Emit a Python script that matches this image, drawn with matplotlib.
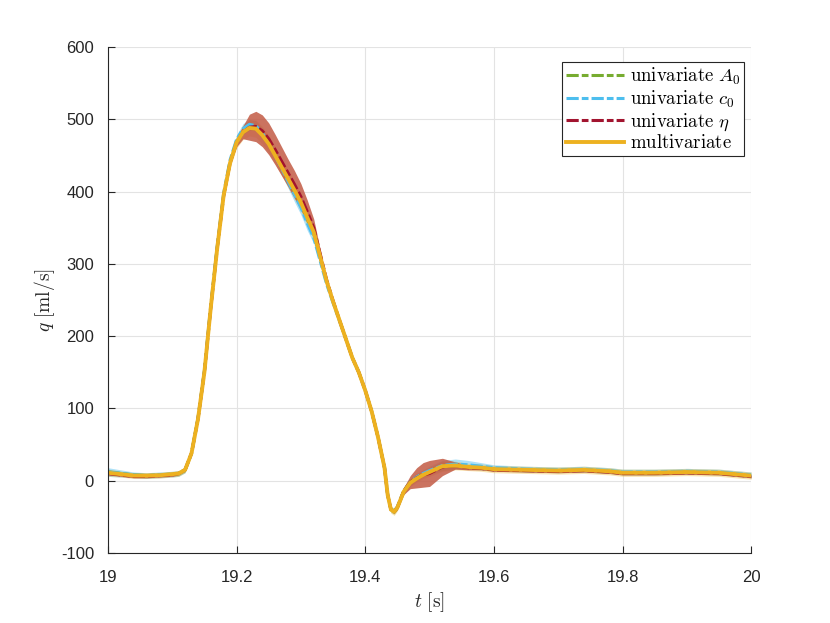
import matplotlib
matplotlib.use("Agg")
import matplotlib.pyplot as plt
import numpy as np

# time samples [s]
t = [19.00, 19.02, 19.04, 19.06, 19.08, 19.10, 19.11, 19.12, 19.13, 19.14,
     19.15, 19.16, 19.17, 19.18, 19.19, 19.20, 19.21, 19.22, 19.23, 19.24,
     19.25, 19.26, 19.27, 19.28, 19.29, 19.30, 19.31, 19.32, 19.33, 19.34,
     19.35, 19.36, 19.37, 19.38, 19.39, 19.40, 19.41, 19.42, 19.43, 19.435,
     19.44, 19.445, 19.45, 19.46, 19.47, 19.48, 19.49, 19.50, 19.52, 19.54,
     19.56, 19.58, 19.60, 19.65, 19.70, 19.74, 19.78, 19.80, 19.85, 19.90,
     19.95, 20.00]

# mean flow [ml/s]
q_multi = [11, 9, 7, 7, 7.5, 9, 10, 15, 38, 85,
           150, 240, 322, 395, 440, 468, 482, 488, 487, 478,
           466, 450, 434, 418, 402, 385, 364, 344, 310, 276,
           248, 222, 196, 170, 150, 125, 96, 60, 18, -20,
           -40, -43, -37, -15, -3, 3, 8, 12, 20, 21,
           19, 18, 16, 15, 14, 15, 13, 11, 11, 12,
           11, 7]
q_a0 = [12, 10, 8, 7, 8, 9, 10, 15, 38, 86,
        151, 241, 323, 396, 441, 470, 484, 490, 489, 480,
        467, 451, 434, 417, 400, 383, 362, 342, 309, 276,
        248, 222, 196, 170, 150, 125, 96, 60, 18, -20,
        -40, -43, -37, -14, -2, 4, 9, 13, 20, 21,
        19, 18, 16, 15, 14, 15, 13, 11, 11, 12,
        11, 7]
q_c0 = [12, 10, 8, 7, 8, 9, 10, 15, 38, 86,
        152, 243, 325, 398, 444, 472, 487, 493, 491, 481,
        467, 450, 432, 414, 396, 378, 356, 336, 304, 272,
        246, 221, 196, 170, 150, 125, 96, 60, 18, -20,
        -40, -42, -36, -14, -2, 5, 10, 14, 21, 23,
        22, 20, 18, 16, 15, 16, 14, 12, 12, 13,
        12, 8]
q_eta = [10, 8, 6, 6, 7, 8, 10, 15, 38, 85,
         150, 240, 322, 394, 440, 468, 482, 489, 490, 484,
         473, 458, 442, 426, 410, 393, 372, 350, 314, 278,
         249, 222, 196, 170, 150, 125, 96, 60, 18, -20,
         -40, -43, -37, -14, -2, 4, 8, 10, 19, 21,
         18, 17, 15, 14, 13, 14, 12, 10, 10, 11,
         10, 6]

# half width of the uncertainty bands [ml/s]
w_multi = [5, 4, 4, 4, 4, 4, 4, 4, 4, 4,
           5, 5, 5, 6, 7, 8, 10, 11, 12, 12,
           12, 12, 12, 12, 12, 12, 12, 10, 8, 6,
           5, 5, 5, 5, 5, 5, 5, 5, 5, 5,
           5, 5, 5, 5, 5, 5, 5, 6, 7, 6,
           5, 5, 5, 5, 5, 5, 5, 5, 5, 5,
           5, 5]
w_a0 = [4, 3, 3, 3, 3, 3, 3, 3, 3, 3,
        3, 3, 3, 4, 4, 5, 5, 5, 5, 5,
        5, 5, 5, 5, 5, 5, 5, 4, 4, 3,
        3, 3, 3, 3, 3, 3, 3, 3, 3, 3,
        3, 3, 3, 3, 3, 3, 3, 4, 4, 4,
        3, 3, 3, 3, 3, 3, 3, 3, 3, 3,
        3, 3]
w_c0 = [6, 5, 4, 4, 4, 4, 4, 4, 4, 4,
        4, 4, 5, 5, 6, 6, 7, 7, 7, 7,
        7, 7, 8, 9, 10, 10, 10, 8, 6, 5,
        4, 4, 4, 4, 4, 4, 4, 4, 4, 4,
        4, 4, 4, 5, 5, 5, 5, 6, 7, 7,
        6, 5, 4, 4, 4, 4, 4, 4, 4, 4,
        4, 4]
w_eta = [2, 2, 2, 2, 2, 2, 2, 2, 2, 2,
         2, 2, 2, 3, 4, 6, 9, 18, 21, 22,
         22, 21, 20, 19, 19, 18, 16, 12, 6, 3,
         2, 2, 2, 2, 2, 2, 2, 2, 2, 2,
         2, 2, 3, 5, 9, 14, 17, 18, 12, 5,
         3, 2, 2, 2, 2, 2, 2, 2, 2, 2,
         2, 2]

plt.rcParams['mathtext.fontset'] = 'cm'
plt.rcParams['axes.unicode_minus'] = False
plt.rcParams['font.family'] = ['Liberation Sans', 'DejaVu Sans']

fig = plt.figure(figsize=(8.3, 6.23), dpi=100)
ax = fig.add_axes([0.13, 0.1124, 0.775, 0.8122])

tt = np.array(t)

def band(q, w, color, alpha):
    q = np.array(q, dtype=float)
    w = np.array(w, dtype=float)
    ax.fill_between(tt, q - w, q + w, color=color, alpha=alpha, lw=0)

band(q_a0, w_a0, '#77AC30', 0.45)
band(q_c0, w_c0, '#4DBEEE', 0.45)
band(q_multi, w_multi, '#EDB120', 0.35)
band(q_eta, w_eta, '#C25A44', 0.85)

dashdot = (0, (4, 1, 2.2, 1))
ax.plot(tt, q_a0, color='#77AC30', ls=dashdot, lw=2.2, label=r'$\mathrm{univariate}\ A_0$')
ax.plot(tt, q_c0, color='#4DBEEE', ls=dashdot, lw=2.2, label=r'$\mathrm{univariate}\ c_0$')
ax.plot(tt, q_eta, color='#A2142F', ls=dashdot, lw=2.2, label=r'$\mathrm{univariate}\ \eta$')
ax.plot(tt, q_multi, color='#EDB120', ls='-', lw=2.8, label=r'$\mathrm{multivariate}$')

ax.set_xlim(19, 20)
ax.set_ylim(-100, 600)
ax.set_xticks([19, 19.2, 19.4, 19.6, 19.8, 20])
ax.set_xticklabels(['19', '19.2', '19.4', '19.6', '19.8', '20'])
ax.set_yticks(np.arange(-100, 601, 100))
ax.tick_params(direction='in', length=5, width=0.8, color='#262626',
               labelsize=12, labelcolor='#262626')
ax.tick_params(axis='x', pad=12)
ax.tick_params(axis='y', pad=10)
ax.grid(True, color='#e3e3e3', lw=0.8)
ax.set_axisbelow(True)
for s in ['top', 'right']:
    ax.spines[s].set_visible(False)
for s in ['left', 'bottom']:
    ax.spines[s].set_color('#262626')
    ax.spines[s].set_linewidth(0.8)

ax.set_xlabel(r'$t\ [\mathrm{s}]$', fontsize=14, color='#262626', labelpad=4)
ax.set_ylabel(r'$q\ [\mathrm{ml/s}]$', fontsize=14, color='#262626', labelpad=3)

leg = ax.legend(loc='upper right', bbox_to_anchor=(0.989, 0.97), fontsize=13.5,
                frameon=True, fancybox=False, framealpha=1, handlelength=3.1,
                handletextpad=0.3, borderpad=0.2, labelspacing=0.08, borderaxespad=0.0)
leg.get_frame().set_edgecolor('#262626')
leg.get_frame().set_linewidth(0.8)

fig.savefig('out.png', dpi=100)
